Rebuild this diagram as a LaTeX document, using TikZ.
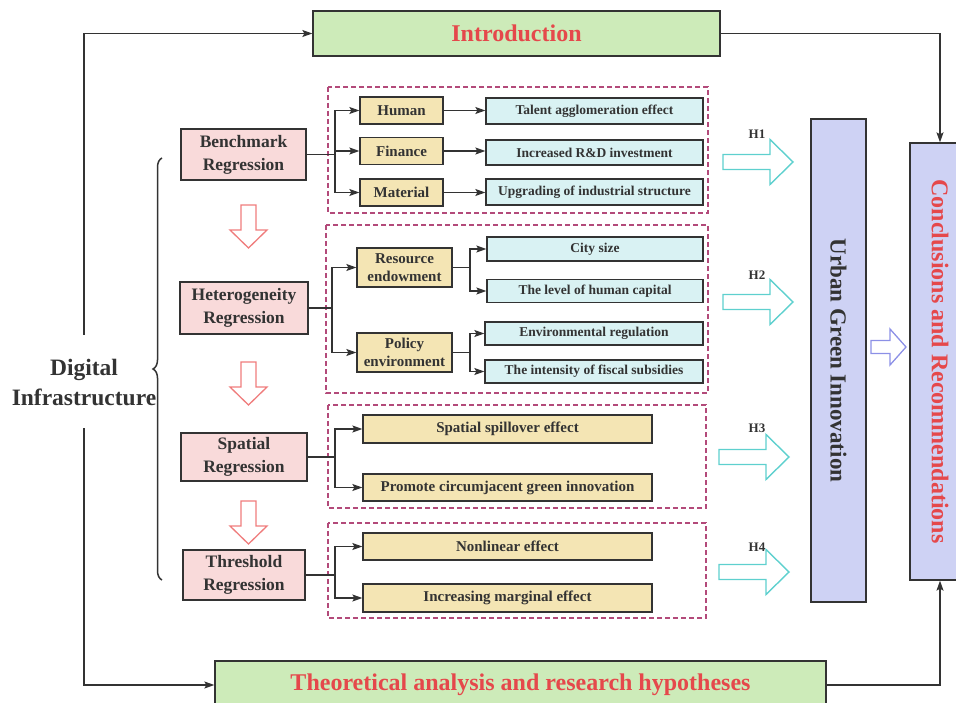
\documentclass[tikz,border=0pt]{standalone}
\usepackage{fontspec}
\setmainfont{Liberation Serif}
\usetikzlibrary{arrows.meta,decorations.pathreplacing}
\definecolor{pinkf}{HTML}{F9DADA}
\definecolor{yelf}{HTML}{F4E5B4}
\definecolor{cyanf}{HTML}{D9F2F3}
\definecolor{greenf}{HTML}{CDEBB9}
\definecolor{lavf}{HTML}{CED2F4}
\definecolor{redt}{HTML}{E5484B}
\definecolor{dashc}{HTML}{B34A7A}
\definecolor{cyana}{HTML}{5ED0CE}
\definecolor{pinka}{HTML}{EF7C7C}
\definecolor{bluea}{HTML}{8C90E6}
\definecolor{ink}{HTML}{333333}
\tikzset{
  box/.style={draw=ink, line width=1.3pt, text=ink, inner sep=0pt, align=center, font=\bfseries},
  pinkbox/.style={box, fill=pinkf, font=\bfseries\fontsize{17.5}{23}\selectfont},
  yelbox/.style={box, fill=yelf, font=\bfseries\fontsize{15}{18}\selectfont},
  cyanbox/.style={box, fill=cyanf, font=\bfseries\fontsize{13.5}{16}\selectfont},
  greenbox/.style={box, fill=greenf, text=redt, font=\bfseries\fontsize{24}{28}\selectfont},
  lavbox/.style={box, fill=lavf},
  conn/.style={draw=ink, line width=1.2pt},
  arr/.style={conn, -{Stealth[length=10pt,width=7pt,inset=2pt]}},
  grp/.style={draw=dashc, line width=1.1pt, dash pattern=on 5pt off 3pt},
  hlab/.style={text=ink, font=\bfseries\fontsize{13}{15}\selectfont},
  rarrow/.pic={\draw[pic actions] (0,-7.5) -- (47,-7.5) -- (47,-22.5) -- (70,0) -- (47,22.5) -- (47,7.5) -- (0,7.5) -- cycle;},
  darrow/.pic={\draw[pic actions] (-7.5,0) -- (-7.5,25) -- (-18.5,25) -- (0,43) -- (18.5,25) -- (7.5,25) -- (7.5,0) -- cycle;},
  sarrow/.pic={\draw[pic actions] (0,-6.5) -- (19,-6.5) -- (19,-18) -- (35,0) -- (19,18) -- (19,6.5) -- (0,6.5) -- cycle;}
}
\begin{document}
\begin{tikzpicture}[x=1pt,y=-1pt]
\useasboundingbox (0,0) rectangle (956,703);

% top and bottom boxes
\node[greenbox, minimum width=407, minimum height=45] (intro) at (516.5,33.5) {Introduction};
\node[greenbox, minimum width=611, minimum height=48] (theo) at (520.5,685) {Theoretical analysis and research hypotheses};

% right boxes
\node[lavbox, minimum width=55, minimum height=483] (ugi) at (838.5,360.5) {};
\node[rotate=-90, text=ink, font=\bfseries\fontsize{23}{27}\selectfont] (ugit) at (ugi.center) {Urban Green Innovation};
\node[lavbox, minimum width=60, minimum height=437] (concl) at (940,361.5) {};
\node[rotate=-90, text=redt, font=\bfseries\fontsize{24}{28}\selectfont] (conclt) at (concl.center) {Conclusions and Recommendations};

% left label
\node[text=ink, align=center, font=\bfseries\fontsize{23.5}{30}\selectfont] (dig) at (84,382) {Digital\\Infrastructure};
\coordinate (l1) at (84,335);
\coordinate (l2) at (84,428);
\draw[arr] (l1) |- (intro.west);
\draw[arr] (l2) |- (theo.west);
\draw[arr] (intro.east) -| (concl.north);
\draw[arr] (theo.east) -| (concl.south);

% brace
\draw[ink, line width=1.5pt, decorate, decoration={brace, amplitude=9pt}] (162,580) -- (162,158);

% pink boxes
\node[pinkbox, minimum width=125, minimum height=51] (bench) at (243.5,154.5) {Benchmark\\Regression};
\node[pinkbox, minimum width=128, minimum height=52] (het) at (244,308) {Heterogeneity\\Regression};
\node[pinkbox, minimum width=126, minimum height=48] (spat) at (244,457) {Spatial\\Regression};
\node[pinkbox, minimum width=122, minimum height=50] (thr) at (244,575) {Threshold\\Regression};

\pic[draw=pinka, line width=1.3pt] at (248.5,205) {darrow};
\pic[draw=pinka, line width=1.3pt] at (248.5,362) {darrow};
\pic[draw=pinka, line width=1.3pt] at (248.5,501) {darrow};

% dashed groups
\draw[grp] (328,87) rectangle (708,213);
\draw[grp] (326,225) rectangle (708,393);
\draw[grp] (328,405) rectangle (706,508);
\draw[grp] (328,523) rectangle (706,618);

% group 1
\node[yelbox, minimum width=83, minimum height=27] (hum) at (401.5,110.5) {Human};
\node[yelbox, minimum width=83, minimum height=27] (fin) at (401.5,151) {Finance};
\node[yelbox, minimum width=83, minimum height=27] (mat) at (401.5,192.5) {Material};
\node[cyanbox, minimum width=217, minimum height=26] (tal) at (594.5,111) {Talent agglomeration effect};
\node[cyanbox, minimum width=217, minimum height=25] (rd) at (594.5,152.5) {Increased R\&D investment};
\node[cyanbox, minimum width=217, minimum height=26] (upg) at (594.5,192) {Upgrading of industrial structure};
\coordinate (j1) at (335,154.5);
\draw[conn] (bench.east) -- (j1);
\draw[arr] (j1) |- (hum.west);
\draw[arr] (j1) |- (fin.west);
\draw[arr] (j1) |- (mat.west);
\draw[arr] (hum.east) -- (hum.east -| tal.west);
\draw[arr] (fin.east) -- (fin.east -| rd.west);
\draw[arr] (mat.east) -- (mat.east -| upg.west);

% group 2
\node[yelbox, minimum width=95, minimum height=39] (res) at (404.5,267.5) {Resource\\endowment};
\node[yelbox, minimum width=95, minimum height=39] (pol) at (404.5,352.5) {Policy\\environment};
\node[cyanbox, minimum width=216, minimum height=24] (city) at (595,249) {City size};
\node[cyanbox, minimum width=216, minimum height=23] (hcap) at (595,291) {The level of human capital};
\node[cyanbox, minimum width=218, minimum height=23] (env) at (594,333.5) {Environmental regulation};
\node[cyanbox, minimum width=218, minimum height=23] (fis) at (594,371.5) {The intensity of fiscal subsidies};
\coordinate (j2) at (332,308);
\coordinate (j3) at (470,267.5);
\coordinate (j4) at (470,352.5);
\draw[conn] (het.east) -- (j2);
\draw[arr] (j2) |- (res.west);
\draw[arr] (j2) |- (pol.west);
\draw[conn] (res.east) -- (j3);
\draw[arr] (j3) |- (city.west);
\draw[arr] (j3) |- (hcap.west);
\draw[conn] (pol.east) -- (j4);
\draw[arr] (j4) |- (env.west);
\draw[arr] (j4) |- (fis.west);

% group 3
\node[yelbox, minimum width=289, minimum height=28] (spill) at (507.5,429) {Spatial spillover effect};
\node[yelbox, minimum width=289, minimum height=27] (prom) at (507.5,487.5) {Promote circumjacent green innovation};
\coordinate (j5) at (335,457);
\draw[conn] (spat.east) -- (j5);
\draw[arr] (j5) |- (spill.west);
\draw[arr] (j5) |- (prom.west);

% group 4
\node[yelbox, minimum width=289, minimum height=27] (nonl) at (507.5,546.5) {Nonlinear effect};
\node[yelbox, minimum width=289, minimum height=28] (incr) at (507.5,598) {Increasing marginal effect};
\coordinate (j6) at (335,575);
\draw[conn] (thr.east) -- (j6);
\draw[arr] (j6) |- (nonl.west);
\draw[arr] (j6) |- (incr.west);

% hypothesis arrows
\pic[draw=cyana, line width=1.4pt] at (723,162) {rarrow};
\pic[draw=cyana, line width=1.4pt] at (723,302) {rarrow};
\pic[draw=cyana, line width=1.4pt] at (719,457) {rarrow};
\pic[draw=cyana, line width=1.4pt] at (719,572) {rarrow};
\node[hlab] (h1) at (757,134) {H1};
\node[hlab] (h2) at (757,275) {H2};
\node[hlab] (h3) at (757,428) {H3};
\node[hlab] (h4) at (757,547) {H4};

\pic[draw=bluea, line width=1.3pt] at (871,347) {sarrow};
\end{tikzpicture}
\end{document}
